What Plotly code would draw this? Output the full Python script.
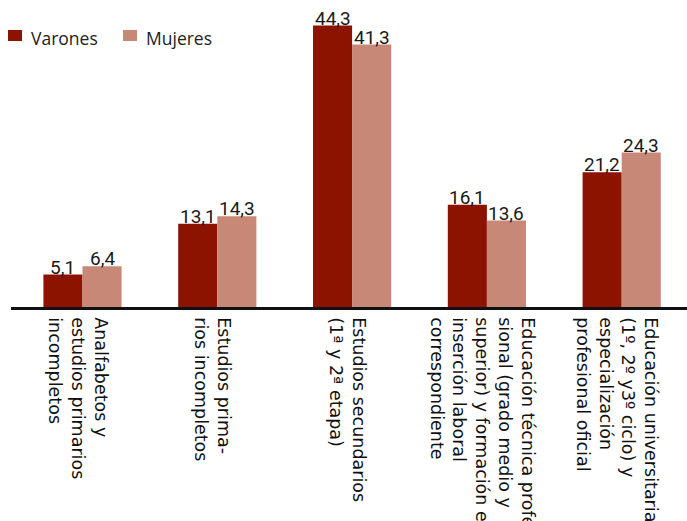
import plotly.graph_objects as go

# Nivel de estudios terminados, por sexo (%)
categorias = [
    "Analfabetos y<br>estudios primarios<br>incompletos",
    "Estudios prima-<br>rios incompletos",
    "Estudios secundarios<br>(1ª y 2ª etapa)",
    "Educación técnica profe-<br>sional (grado medio y<br>superior) y formación e<br>inserción laboral<br>correspondiente",
    "Educación universitaria<br>(1º, 2º y3º ciclo) y<br>especialización<br>profesional oficial",
]
series = ["Varones", "Mujeres"]
varones = [5.1, 13.1, 44.3, 16.1, 21.2]
mujeres = [6.4, 14.3, 41.3, 13.6, 24.3]
colores = ["#8c1300", "#c88878"]

W, H = 687, 521
L, R, T, B = 11, 0, 2, 214
PW, PH = W - L - R, H - T - B

x = list(range(len(categorias)))
bargap = 0.42
half = (1 - bargap) / 4  # centre offset of each bar inside a group


def fmt(v):
    return f"{v:.1f}".replace(".", ",")


fig = go.Figure()
for name, vals, col in zip(series, [varones, mujeres], colores):
    fig.add_trace(go.Bar(
        x=x, y=vals, name=name, marker=dict(color=col, line=dict(width=0)),
        showlegend=False, hoverinfo="skip",
    ))

# value labels sitting on the bar tops
annotations = []
for k, vals in enumerate([varones, mujeres]):
    off = -half if k == 0 else half
    for i, v in enumerate(vals):
        annotations.append(dict(
            x=i + off, y=v, xref="x", yref="y", text=fmt(v), showarrow=False,
            xanchor="center", yanchor="bottom", yshift=-6,
            font=dict(family="Roboto", size=19, color="#1a1a1a"),
        ))

# legend drawn as coloured keys with labels
def px(xp):
    return (xp - L) / PW


def py(yp):
    return (H - B - yp) / PH


shapes = []
key_x = [8, 123]
for name, col, kx in zip(series, colores, key_x):
    shapes.append(dict(type="rect", xref="paper", yref="paper",
                       x0=px(kx), x1=px(kx + 14), y0=py(41), y1=py(30),
                       fillcolor=col, line=dict(width=0)))
    annotations.append(dict(x=px(kx + 21), y=py(38), xref="paper", yref="paper",
                            text=name, showarrow=False, xanchor="left", yanchor="middle",
                            font=dict(family="Open Sans", size=17.5, color="#222222")))

step = PW / 5.015
x0 = -(82.5 - L) / step

fig.update_layout(
    width=W, height=H,
    margin=dict(l=L, r=R, t=T, b=B, pad=0, autoexpand=False),
    paper_bgcolor="white", plot_bgcolor="white",
    barmode="group", bargap=bargap, bargroupgap=0,
    xaxis=dict(
        range=[x0, x0 + PW / step], tickmode="array", tickvals=x, ticktext=categorias,
        tickangle=90, ticks="", showgrid=False, zeroline=False, automargin=False,
        showline=True, linecolor="#111111", linewidth=2.5,
        tickfont=dict(family="DejaVu Sans", size=17.5, color="#111111"),
        ticklabelshift=-5, ticklabelstandoff=4,
    ),
    yaxis=dict(range=[0, 48], visible=False, showgrid=False, zeroline=False, automargin=False),
    shapes=shapes, annotations=annotations,
)

fig.write_html("out.html")
